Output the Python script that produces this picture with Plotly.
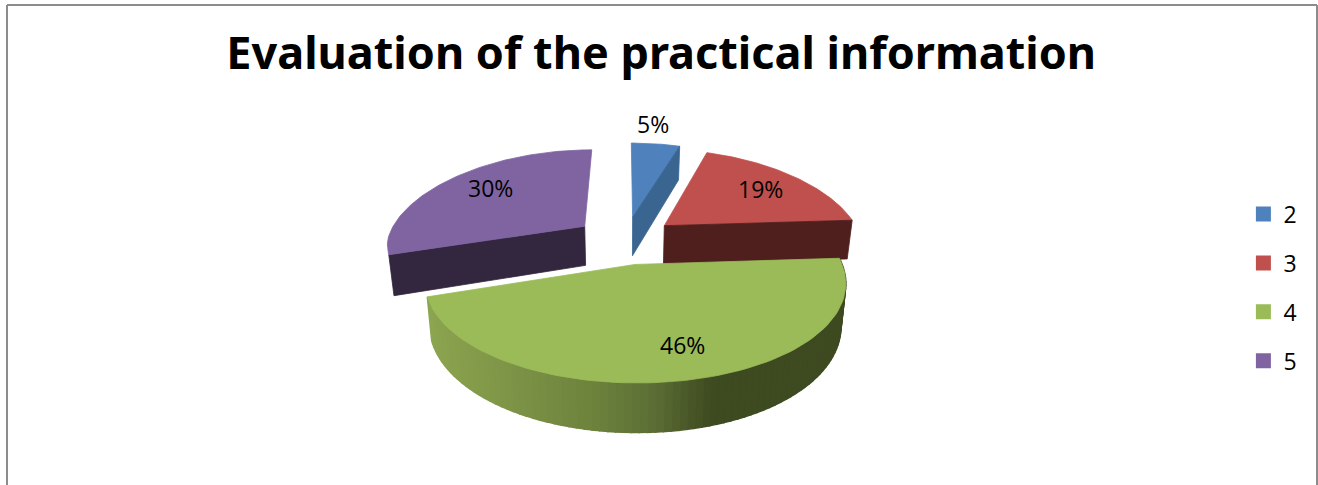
import numpy as np
import plotly.graph_objects as go

# ---- data
categories = ["2", "3", "4", "5"]
values = [5, 19, 46, 30]
labels = ["5%", "19%", "46%", "30%"]
title_text = "Evaluation of the practical information"

# ---- style
top_colors = ["#4f81bd", "#c0504d", "#9bbb59", "#8064a2"]
wall_colors = ["#3b6591", "#4f1f1e", "#3d4a20", "#33263f"]
green_wall_stops = [(0.0, (140, 165, 80)), (0.2, (125, 147, 70)), (0.4, (108, 130, 60)),
                    (0.55, (90, 108, 52)), (0.68, (62, 74, 32)), (1.0, (62, 74, 32))]
label_pos = [(653, 124), (760, 189), (682, 345), (490, 188)]

# ---- projection of the tilted pie onto the canvas
CX, CY, A, B, K = 625.0, 240.0, 198.0, 92.0, 0.153
KX_BACK, KX_FRONT, TAPER = 0.22, 0.17, 0.00055
EXPLODE, DEPTH = 0.26, 40.0


def project(u, v, drop=0.0):
    v = np.asarray(v, dtype=float)
    p = 1.0 / (1.0 - K * v)
    kx = np.where(v < 0, KX_BACK, KX_FRONT)
    return CX + A * u / (1.0 - kx * v) * (1.0 - TAPER * drop), CY + B * v * p + drop * p


def wedge(a0, a1):
    mid = (a0 + a1) / 2
    ou, ov = EXPLODE * np.sin(mid), -EXPLODE * np.cos(mid)
    th = np.linspace(a0, a1, 90)
    return ou, ov, ou + np.sin(th), ov - np.cos(th)


def poly(xs, ys, color, lw=0.8):
    return go.Scatter(x=xs, y=ys, mode="lines", fill="toself", fillcolor=color,
                      line=dict(color=color, width=lw), hoverinfo="skip", showlegend=False)


def wall(u0, v0, u1, v1, color, lw=0.8):
    x0, y0 = project(u0, v0)
    x1, y1 = project(u1, v1)
    x2, y2 = project(u1, v1, DEPTH)
    x3, y3 = project(u0, v0, DEPTH)
    return poly([x0, x1, x2, x3, x0], [y0, y1, y2, y3, y0], color, lw)


def top(ou, ov, us, vs, color):
    x, y = project(np.r_[ou, us, ou], np.r_[ov, vs, ov])
    return poly(x, y, color)


def ramp(t):
    for (t0, c0), (t1, c1) in zip(green_wall_stops, green_wall_stops[1:]):
        if t <= t1:
            f = (t - t0) / (t1 - t0)
            c = [round(a + (b - a) * f) for a, b in zip(c0, c1)]
            return f"rgb({c[0]},{c[1]},{c[2]})"
    return "rgb(62,74,32)"


fractions = np.cumsum([0] + values) / sum(values)
angles = fractions * 2 * np.pi
wedges = [wedge(angles[i], angles[i + 1]) for i in range(4)]

fig = go.Figure()

# purple
ou, ov, us, vs = wedges[3]
fig.add_trace(wall(ou, ov, us[0], vs[0], wall_colors[3]))
fig.add_trace(top(ou, ov, us, vs, top_colors[3]))
# blue
ou, ov, us, vs = wedges[0]
fig.add_trace(top(ou, ov, us, vs, top_colors[0]))
fig.add_trace(wall(ou, ov, us[-1], vs[-1], wall_colors[0]))
# red
ou, ov, us, vs = wedges[1]
fig.add_trace(top(ou, ov, us, vs, top_colors[1]))
fig.add_trace(wall(ou, ov, us[-1], vs[-1], wall_colors[1]))
# green: shaded outer wall, then top face
ou, ov, us, vs = wedges[2]
xs_edge = project(us, vs)[0]
xmin, xmax = xs_edge.min(), xs_edge.max()
for i in range(len(us) - 1):
    t = ((xs_edge[i] + xs_edge[i + 1]) / 2 - xmin) / (xmax - xmin)
    fig.add_trace(wall(us[i], vs[i], us[i + 1], vs[i + 1], ramp(t), 1.6))
fig.add_trace(top(ou, ov, us, vs, top_colors[2]))

# legend entries
for name, color in zip(categories, top_colors):
    fig.add_trace(go.Scatter(x=[None], y=[None], mode="markers", name=name, legendgroup=name,
                             marker=dict(symbol="square", size=15, color=color)))

# slice labels
for text, (lx, ly) in zip(labels, label_pos):
    fig.add_annotation(x=lx, y=ly, xref="x", yref="y", text=text, showarrow=False,
                       font=dict(family="Open Sans", size=23, color="#000000"))

# outer frame of the picture
frame = dict(color="#8c8c8c", width=2)
fig.add_shape(type="line", xref="x", yref="y", x0=7, y0=485, x1=7, y1=5, line=frame)
fig.add_shape(type="line", xref="x", yref="y", x0=7, y0=5, x1=1317, y1=5, line=frame)
fig.add_shape(type="line", xref="x", yref="y", x0=1317, y0=5, x1=1317, y1=485, line=frame)

fig.update_layout(
    width=1318, height=485,
    margin=dict(l=0, r=0, t=0, b=0),
    paper_bgcolor="#ffffff", plot_bgcolor="#ffffff",
    title=dict(text=f"<b>{title_text}</b>", x=0.5017, xanchor="center", y=0.89, yanchor="middle",
               font=dict(family="Noto Sans", size=45, color="#000000")),
    xaxis=dict(range=[0, 1318], visible=False, fixedrange=True),
    yaxis=dict(range=[485, 0], visible=False, fixedrange=True),
    legend=dict(x=0.9434, y=0.407, xanchor="left", yanchor="middle", tracegroupgap=16,
                itemwidth=30, bgcolor="rgba(0,0,0,0)",
                font=dict(family="Open Sans", size=23, color="#000000")),
    showlegend=True,
)
fig.write_html("out.html", config=dict(displayModeBar=False),
               post_script="document.body.style.margin='0';document.body.style.overflow='hidden';")
